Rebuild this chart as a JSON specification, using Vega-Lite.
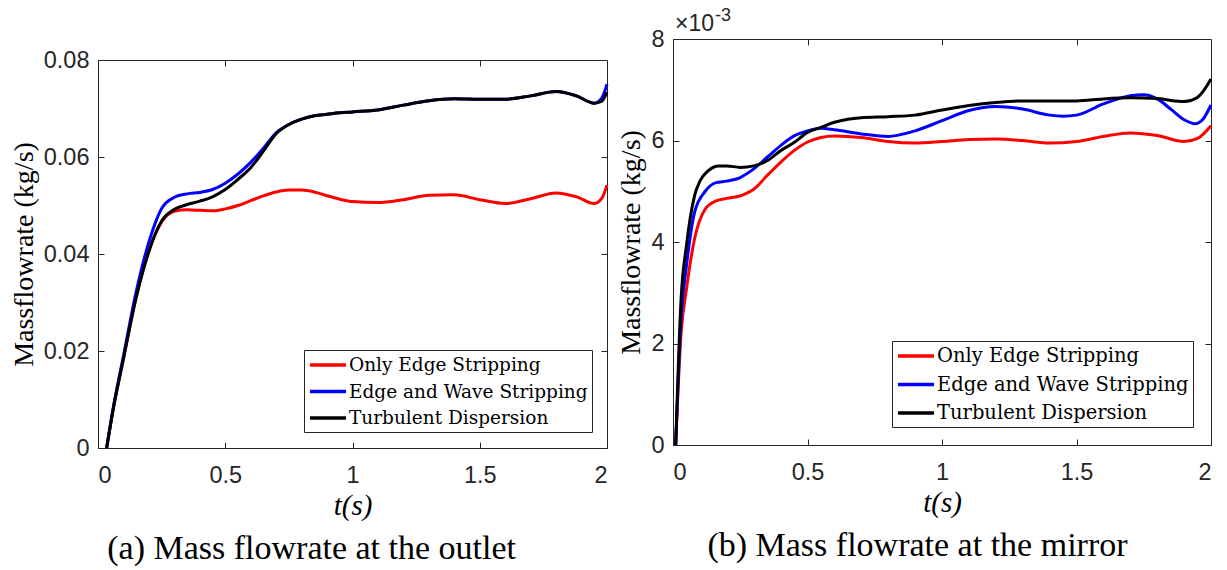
{
  "$schema": "https://vega.github.io/schema/vega-lite/v6.json",
  "background": "white",
  "padding": {"left": 9, "top": 6, "right": 8, "bottom": 4},
  "spacing": 3,
  "datasets": {
    "outlet": [
      {"t": 0.034, "m": 0, "model": "Only Edge Stripping"},
      {"t": 0.06, "m": 0.0081, "model": "Only Edge Stripping"},
      {"t": 0.1, "m": 0.0184, "model": "Only Edge Stripping"},
      {"t": 0.15, "m": 0.0312, "model": "Only Edge Stripping"},
      {"t": 0.2, "m": 0.0408, "model": "Only Edge Stripping"},
      {"t": 0.25, "m": 0.0466, "model": "Only Edge Stripping"},
      {"t": 0.3, "m": 0.0488, "model": "Only Edge Stripping"},
      {"t": 0.35, "m": 0.0491, "model": "Only Edge Stripping"},
      {"t": 0.4, "m": 0.049, "model": "Only Edge Stripping"},
      {"t": 0.45, "m": 0.0489, "model": "Only Edge Stripping"},
      {"t": 0.5, "m": 0.0493, "model": "Only Edge Stripping"},
      {"t": 0.55, "m": 0.05, "model": "Only Edge Stripping"},
      {"t": 0.6, "m": 0.051, "model": "Only Edge Stripping"},
      {"t": 0.65, "m": 0.052, "model": "Only Edge Stripping"},
      {"t": 0.7, "m": 0.0528, "model": "Only Edge Stripping"},
      {"t": 0.75, "m": 0.0532, "model": "Only Edge Stripping"},
      {"t": 0.8, "m": 0.0532, "model": "Only Edge Stripping"},
      {"t": 0.85, "m": 0.0528, "model": "Only Edge Stripping"},
      {"t": 0.9, "m": 0.052, "model": "Only Edge Stripping"},
      {"t": 0.95, "m": 0.0513, "model": "Only Edge Stripping"},
      {"t": 1.0, "m": 0.0508, "model": "Only Edge Stripping"},
      {"t": 1.1, "m": 0.0506, "model": "Only Edge Stripping"},
      {"t": 1.2, "m": 0.0512, "model": "Only Edge Stripping"},
      {"t": 1.3, "m": 0.0521, "model": "Only Edge Stripping"},
      {"t": 1.4, "m": 0.0522, "model": "Only Edge Stripping"},
      {"t": 1.5, "m": 0.0512, "model": "Only Edge Stripping"},
      {"t": 1.6, "m": 0.0504, "model": "Only Edge Stripping"},
      {"t": 1.7, "m": 0.0514, "model": "Only Edge Stripping"},
      {"t": 1.8, "m": 0.0526, "model": "Only Edge Stripping"},
      {"t": 1.88, "m": 0.0518, "model": "Only Edge Stripping"},
      {"t": 1.95, "m": 0.0504, "model": "Only Edge Stripping"},
      {"t": 1.98, "m": 0.0515, "model": "Only Edge Stripping"},
      {"t": 2.0, "m": 0.0542, "model": "Only Edge Stripping"},
      {"t": 0.034, "m": 0, "model": "Edge and Wave Stripping"},
      {"t": 0.06, "m": 0.0083, "model": "Edge and Wave Stripping"},
      {"t": 0.1, "m": 0.019, "model": "Edge and Wave Stripping"},
      {"t": 0.15, "m": 0.0322, "model": "Edge and Wave Stripping"},
      {"t": 0.2, "m": 0.0425, "model": "Edge and Wave Stripping"},
      {"t": 0.25, "m": 0.0494, "model": "Edge and Wave Stripping"},
      {"t": 0.3, "m": 0.0517, "model": "Edge and Wave Stripping"},
      {"t": 0.35, "m": 0.0524, "model": "Edge and Wave Stripping"},
      {"t": 0.4, "m": 0.0527, "model": "Edge and Wave Stripping"},
      {"t": 0.45, "m": 0.0533, "model": "Edge and Wave Stripping"},
      {"t": 0.5, "m": 0.0546, "model": "Edge and Wave Stripping"},
      {"t": 0.55, "m": 0.0565, "model": "Edge and Wave Stripping"},
      {"t": 0.6, "m": 0.0589, "model": "Edge and Wave Stripping"},
      {"t": 0.65, "m": 0.0618, "model": "Edge and Wave Stripping"},
      {"t": 0.7, "m": 0.065, "model": "Edge and Wave Stripping"},
      {"t": 0.75, "m": 0.0667, "model": "Edge and Wave Stripping"},
      {"t": 0.8, "m": 0.0678, "model": "Edge and Wave Stripping"},
      {"t": 0.85, "m": 0.0685, "model": "Edge and Wave Stripping"},
      {"t": 0.9, "m": 0.0688, "model": "Edge and Wave Stripping"},
      {"t": 0.95, "m": 0.0691, "model": "Edge and Wave Stripping"},
      {"t": 1.0, "m": 0.0693, "model": "Edge and Wave Stripping"},
      {"t": 1.1, "m": 0.0697, "model": "Edge and Wave Stripping"},
      {"t": 1.2, "m": 0.0707, "model": "Edge and Wave Stripping"},
      {"t": 1.3, "m": 0.0716, "model": "Edge and Wave Stripping"},
      {"t": 1.4, "m": 0.072, "model": "Edge and Wave Stripping"},
      {"t": 1.5, "m": 0.0719, "model": "Edge and Wave Stripping"},
      {"t": 1.6, "m": 0.0719, "model": "Edge and Wave Stripping"},
      {"t": 1.7, "m": 0.0726, "model": "Edge and Wave Stripping"},
      {"t": 1.8, "m": 0.0735, "model": "Edge and Wave Stripping"},
      {"t": 1.88, "m": 0.0726, "model": "Edge and Wave Stripping"},
      {"t": 1.95, "m": 0.0711, "model": "Edge and Wave Stripping"},
      {"t": 1.98, "m": 0.0722, "model": "Edge and Wave Stripping"},
      {"t": 2.0, "m": 0.075, "model": "Edge and Wave Stripping"},
      {"t": 0.034, "m": 0, "model": "Turbulent Dispersion"},
      {"t": 0.06, "m": 0.0081, "model": "Turbulent Dispersion"},
      {"t": 0.1, "m": 0.0184, "model": "Turbulent Dispersion"},
      {"t": 0.15, "m": 0.031, "model": "Turbulent Dispersion"},
      {"t": 0.2, "m": 0.0405, "model": "Turbulent Dispersion"},
      {"t": 0.25, "m": 0.0468, "model": "Turbulent Dispersion"},
      {"t": 0.3, "m": 0.0492, "model": "Turbulent Dispersion"},
      {"t": 0.35, "m": 0.0502, "model": "Turbulent Dispersion"},
      {"t": 0.4, "m": 0.0509, "model": "Turbulent Dispersion"},
      {"t": 0.45, "m": 0.0518, "model": "Turbulent Dispersion"},
      {"t": 0.5, "m": 0.0533, "model": "Turbulent Dispersion"},
      {"t": 0.55, "m": 0.0554, "model": "Turbulent Dispersion"},
      {"t": 0.6, "m": 0.0578, "model": "Turbulent Dispersion"},
      {"t": 0.65, "m": 0.0612, "model": "Turbulent Dispersion"},
      {"t": 0.7, "m": 0.0648, "model": "Turbulent Dispersion"},
      {"t": 0.75, "m": 0.0667, "model": "Turbulent Dispersion"},
      {"t": 0.8, "m": 0.0678, "model": "Turbulent Dispersion"},
      {"t": 0.85, "m": 0.0685, "model": "Turbulent Dispersion"},
      {"t": 0.9, "m": 0.0688, "model": "Turbulent Dispersion"},
      {"t": 0.95, "m": 0.0691, "model": "Turbulent Dispersion"},
      {"t": 1.0, "m": 0.0693, "model": "Turbulent Dispersion"},
      {"t": 1.1, "m": 0.0697, "model": "Turbulent Dispersion"},
      {"t": 1.2, "m": 0.0707, "model": "Turbulent Dispersion"},
      {"t": 1.3, "m": 0.0716, "model": "Turbulent Dispersion"},
      {"t": 1.4, "m": 0.072, "model": "Turbulent Dispersion"},
      {"t": 1.5, "m": 0.0719, "model": "Turbulent Dispersion"},
      {"t": 1.6, "m": 0.0719, "model": "Turbulent Dispersion"},
      {"t": 1.7, "m": 0.0726, "model": "Turbulent Dispersion"},
      {"t": 1.8, "m": 0.0735, "model": "Turbulent Dispersion"},
      {"t": 1.88, "m": 0.0726, "model": "Turbulent Dispersion"},
      {"t": 1.95, "m": 0.0711, "model": "Turbulent Dispersion"},
      {"t": 1.98, "m": 0.0715, "model": "Turbulent Dispersion"},
      {"t": 2.0, "m": 0.0734, "model": "Turbulent Dispersion"}
    ],
    "mirror": [
      {"t": 0.01, "m": 0, "model": "Only Edge Stripping"},
      {"t": 0.03, "m": 2.2, "model": "Only Edge Stripping"},
      {"t": 0.05, "m": 3.07, "model": "Only Edge Stripping"},
      {"t": 0.08, "m": 4.06, "model": "Only Edge Stripping"},
      {"t": 0.12, "m": 4.65, "model": "Only Edge Stripping"},
      {"t": 0.16, "m": 4.81, "model": "Only Edge Stripping"},
      {"t": 0.2, "m": 4.86, "model": "Only Edge Stripping"},
      {"t": 0.25, "m": 4.91, "model": "Only Edge Stripping"},
      {"t": 0.3, "m": 5.04, "model": "Only Edge Stripping"},
      {"t": 0.35, "m": 5.31, "model": "Only Edge Stripping"},
      {"t": 0.4, "m": 5.57, "model": "Only Edge Stripping"},
      {"t": 0.45, "m": 5.8, "model": "Only Edge Stripping"},
      {"t": 0.5, "m": 5.97, "model": "Only Edge Stripping"},
      {"t": 0.55, "m": 6.06, "model": "Only Edge Stripping"},
      {"t": 0.6, "m": 6.09, "model": "Only Edge Stripping"},
      {"t": 0.7, "m": 6.06, "model": "Only Edge Stripping"},
      {"t": 0.8, "m": 5.98, "model": "Only Edge Stripping"},
      {"t": 0.9, "m": 5.95, "model": "Only Edge Stripping"},
      {"t": 1.0, "m": 5.98, "model": "Only Edge Stripping"},
      {"t": 1.1, "m": 6.02, "model": "Only Edge Stripping"},
      {"t": 1.2, "m": 6.03, "model": "Only Edge Stripping"},
      {"t": 1.3, "m": 6.0, "model": "Only Edge Stripping"},
      {"t": 1.4, "m": 5.95, "model": "Only Edge Stripping"},
      {"t": 1.5, "m": 5.98, "model": "Only Edge Stripping"},
      {"t": 1.6, "m": 6.08, "model": "Only Edge Stripping"},
      {"t": 1.7, "m": 6.15, "model": "Only Edge Stripping"},
      {"t": 1.8, "m": 6.1, "model": "Only Edge Stripping"},
      {"t": 1.9, "m": 5.98, "model": "Only Edge Stripping"},
      {"t": 1.95, "m": 6.04, "model": "Only Edge Stripping"},
      {"t": 2.0, "m": 6.29, "model": "Only Edge Stripping"},
      {"t": 0.01, "m": 0, "model": "Edge and Wave Stripping"},
      {"t": 0.03, "m": 2.5, "model": "Edge and Wave Stripping"},
      {"t": 0.05, "m": 3.53, "model": "Edge and Wave Stripping"},
      {"t": 0.08, "m": 4.58, "model": "Edge and Wave Stripping"},
      {"t": 0.12, "m": 5.0, "model": "Edge and Wave Stripping"},
      {"t": 0.16, "m": 5.17, "model": "Edge and Wave Stripping"},
      {"t": 0.2, "m": 5.2, "model": "Edge and Wave Stripping"},
      {"t": 0.25, "m": 5.27, "model": "Edge and Wave Stripping"},
      {"t": 0.3, "m": 5.44, "model": "Edge and Wave Stripping"},
      {"t": 0.35, "m": 5.67, "model": "Edge and Wave Stripping"},
      {"t": 0.4, "m": 5.9, "model": "Edge and Wave Stripping"},
      {"t": 0.45, "m": 6.09, "model": "Edge and Wave Stripping"},
      {"t": 0.5, "m": 6.19, "model": "Edge and Wave Stripping"},
      {"t": 0.55, "m": 6.24, "model": "Edge and Wave Stripping"},
      {"t": 0.6, "m": 6.21, "model": "Edge and Wave Stripping"},
      {"t": 0.7, "m": 6.13, "model": "Edge and Wave Stripping"},
      {"t": 0.8, "m": 6.08, "model": "Edge and Wave Stripping"},
      {"t": 0.9, "m": 6.19, "model": "Edge and Wave Stripping"},
      {"t": 1.0, "m": 6.39, "model": "Edge and Wave Stripping"},
      {"t": 1.1, "m": 6.59, "model": "Edge and Wave Stripping"},
      {"t": 1.2, "m": 6.67, "model": "Edge and Wave Stripping"},
      {"t": 1.3, "m": 6.62, "model": "Edge and Wave Stripping"},
      {"t": 1.4, "m": 6.5, "model": "Edge and Wave Stripping"},
      {"t": 1.45, "m": 6.48, "model": "Edge and Wave Stripping"},
      {"t": 1.5, "m": 6.5, "model": "Edge and Wave Stripping"},
      {"t": 1.6, "m": 6.72, "model": "Edge and Wave Stripping"},
      {"t": 1.7, "m": 6.88, "model": "Edge and Wave Stripping"},
      {"t": 1.75, "m": 6.9, "model": "Edge and Wave Stripping"},
      {"t": 1.8, "m": 6.82, "model": "Edge and Wave Stripping"},
      {"t": 1.85, "m": 6.62, "model": "Edge and Wave Stripping"},
      {"t": 1.9, "m": 6.41, "model": "Edge and Wave Stripping"},
      {"t": 1.94, "m": 6.33, "model": "Edge and Wave Stripping"},
      {"t": 1.97, "m": 6.42, "model": "Edge and Wave Stripping"},
      {"t": 2.0, "m": 6.7, "model": "Edge and Wave Stripping"},
      {"t": 0.01, "m": 0, "model": "Turbulent Dispersion"},
      {"t": 0.03, "m": 2.87, "model": "Turbulent Dispersion"},
      {"t": 0.05, "m": 3.93, "model": "Turbulent Dispersion"},
      {"t": 0.08, "m": 4.91, "model": "Turbulent Dispersion"},
      {"t": 0.1, "m": 5.2, "model": "Turbulent Dispersion"},
      {"t": 0.13, "m": 5.4, "model": "Turbulent Dispersion"},
      {"t": 0.17, "m": 5.5, "model": "Turbulent Dispersion"},
      {"t": 0.2, "m": 5.5, "model": "Turbulent Dispersion"},
      {"t": 0.25, "m": 5.47, "model": "Turbulent Dispersion"},
      {"t": 0.3, "m": 5.5, "model": "Turbulent Dispersion"},
      {"t": 0.35, "m": 5.6, "model": "Turbulent Dispersion"},
      {"t": 0.4, "m": 5.8, "model": "Turbulent Dispersion"},
      {"t": 0.45, "m": 5.96, "model": "Turbulent Dispersion"},
      {"t": 0.5, "m": 6.16, "model": "Turbulent Dispersion"},
      {"t": 0.55, "m": 6.26, "model": "Turbulent Dispersion"},
      {"t": 0.6, "m": 6.36, "model": "Turbulent Dispersion"},
      {"t": 0.65, "m": 6.42, "model": "Turbulent Dispersion"},
      {"t": 0.7, "m": 6.45, "model": "Turbulent Dispersion"},
      {"t": 0.8, "m": 6.47, "model": "Turbulent Dispersion"},
      {"t": 0.9, "m": 6.5, "model": "Turbulent Dispersion"},
      {"t": 1.0, "m": 6.6, "model": "Turbulent Dispersion"},
      {"t": 1.1, "m": 6.69, "model": "Turbulent Dispersion"},
      {"t": 1.2, "m": 6.75, "model": "Turbulent Dispersion"},
      {"t": 1.3, "m": 6.78, "model": "Turbulent Dispersion"},
      {"t": 1.4, "m": 6.78, "model": "Turbulent Dispersion"},
      {"t": 1.5, "m": 6.78, "model": "Turbulent Dispersion"},
      {"t": 1.6, "m": 6.82, "model": "Turbulent Dispersion"},
      {"t": 1.7, "m": 6.84, "model": "Turbulent Dispersion"},
      {"t": 1.8, "m": 6.83, "model": "Turbulent Dispersion"},
      {"t": 1.85, "m": 6.79, "model": "Turbulent Dispersion"},
      {"t": 1.9, "m": 6.77, "model": "Turbulent Dispersion"},
      {"t": 1.95, "m": 6.85, "model": "Turbulent Dispersion"},
      {"t": 2.0, "m": 7.21, "model": "Turbulent Dispersion"}
    ]
  },
  "resolve": {"scale": {"color": "independent"}, "legend": {"color": "independent"}},
  "hconcat": [
    {
      "bounds": "flush",
      "spacing": 20,
      "vconcat": [
        {
          "width": 509,
          "height": 1,
          "view": {"stroke": null},
          "data": {"values": [{"gap": 0}]},
          "mark": {"type": "point", "opacity": 0, "size": 0},
          "encoding": {}
        },
        {
          "width": 509,
          "height": 388,
          "title": {"text": "(a) Mass flowrate at the outlet", "orient": "bottom", "frame": "bounds", "anchor": "middle", "font": "Liberation Serif", "fontSize": 34, "fontWeight": "normal", "color": "#000000", "offset": 11},
          "resolve": {"axis": {"x": "independent", "y": "independent"}},
          "layer": [
            {
              "data": {"name": "outlet"},
              "mark": {"type": "line", "strokeWidth": 3, "interpolate": "monotone"},
              "encoding": {
                "x": {"field": "t", "type": "quantitative", "scale": {"domain": [0, 2], "nice": false},
                      "axis": {"values": [0, 0.5, 1, 1.5, 2], "format": "~g", "title": "t(s)", "titleFontStyle": "italic"}},
                "y": {"field": "m", "type": "quantitative", "scale": {"domain": [0, 0.08], "nice": false},
                      "axis": {"values": [0, 0.02, 0.04, 0.06, 0.08], "format": ".2~f", "title": "Massflowrate (kg/s)"}},
                "color": {"field": "model", "type": "nominal",
                          "scale": {"domain": ["Only Edge Stripping", "Edge and Wave Stripping", "Turbulent Dispersion"], "range": ["#ff0000", "#0000ff", "#000000"]},
                          "legend": {"orient": "none", "legendX": 206, "legendY": 311, "labelFontSize": 18.5, "rowPadding": 5.5}}
              }
            },
            {
              "data": {"name": "outlet"},
              "mark": {"type": "point", "opacity": 0},
              "encoding": {
                "x": {"field": "t", "type": "quantitative", "axis": {"orient": "top", "values": [0.5, 1, 1.5], "labels": false, "title": null, "domain": false}},
                "y": {"field": "m", "type": "quantitative", "axis": {"orient": "right", "values": [0.02, 0.04, 0.06], "labels": false, "title": null, "domain": false}}
              }
            }
          ]
        }
      ]
    },
    {
      "width": 538,
      "height": 406,
      "title": {"text": "(b) Mass flowrate at the mirror", "orient": "bottom", "frame": "bounds", "anchor": "middle", "font": "Liberation Serif", "fontSize": 34, "fontWeight": "normal", "color": "#000000", "offset": 11},
      "resolve": {"axis": {"x": "independent", "y": "independent"}},
      "layer": [
        {
          "data": {"name": "mirror"},
          "mark": {"type": "line", "strokeWidth": 3, "interpolate": "monotone"},
          "encoding": {
            "x": {"field": "t", "type": "quantitative", "scale": {"domain": [0, 2], "nice": false},
                  "axis": {"values": [0, 0.5, 1, 1.5, 2], "format": "~g", "title": "t(s)", "titleFontStyle": "italic"}},
            "y": {"field": "m", "type": "quantitative", "scale": {"domain": [0, 8], "nice": false},
                  "axis": {"values": [0, 2, 4, 6, 8], "format": "d", "title": "Massflowrate (kg/s)"}},
            "color": {"field": "model", "type": "nominal",
                      "scale": {"domain": ["Only Edge Stripping", "Edge and Wave Stripping", "Turbulent Dispersion"], "range": ["#ff0000", "#0000ff", "#000000"]},
                      "legend": {"orient": "none", "legendX": 219, "legendY": 302, "labelFontSize": 19.5, "rowPadding": 7.5}}
          }
        },
        {
          "data": {"name": "mirror"},
          "mark": {"type": "point", "opacity": 0},
          "encoding": {
            "x": {"field": "t", "type": "quantitative", "axis": {"orient": "top", "values": [0.5, 1, 1.5], "labels": false, "title": null, "domain": false}},
            "y": {"field": "m", "type": "quantitative", "axis": {"orient": "right", "values": [2, 4, 6], "labels": false, "title": null, "domain": false}}
          }
        },
        {
          "data": {"values": [{"label": "×10"}]},
          "mark": {"type": "text", "align": "left", "baseline": "alphabetic", "font": "Liberation Sans", "fontSize": 23, "color": "#262626", "dx": 2, "dy": -8},
          "encoding": {
            "x": {"datum": 0, "type": "quantitative", "axis": null},
            "y": {"datum": 8, "type": "quantitative", "axis": null},
            "text": {"field": "label"}
          }
        },
        {
          "data": {"values": [{"label": "-3"}]},
          "mark": {"type": "text", "align": "left", "baseline": "alphabetic", "font": "Liberation Sans", "fontSize": 18, "color": "#262626", "dx": 42, "dy": -18},
          "encoding": {
            "x": {"datum": 0, "type": "quantitative", "axis": null},
            "y": {"datum": 8, "type": "quantitative", "axis": null},
            "text": {"field": "label"}
          }
        }
      ]
    }
  ],
  "config": {
    "view": {"stroke": "#262626", "strokeWidth": 1},
    "axis": {
      "grid": false,
      "domainColor": "#262626",
      "tickColor": "#262626",
      "tickSize": -6,
      "labelColor": "#262626",
      "labelFont": "Liberation Sans",
      "labelFontSize": 23.5,
      "titleFont": "Liberation Serif",
      "titleFontSize": 28,
      "titleFontWeight": "normal",
      "titleColor": "#000000"
    },
    "axisX": {"labelPadding": 21, "titlePadding": 5, "titleFontSize": 29},
    "axisY": {"labelPadding": 15, "titlePadding": 5},
    "legend": {
      "title": null,
      "symbolType": "M-1,0H3",
      "symbolStrokeWidth": 3.5,
      "symbolSize": 324,
      "labelFont": "DejaVu Serif",
      "labelFontSize": 19,
      "labelColor": "#000000",
      "labelLimit": 400,
      "labelOffset": 19,
      "rowPadding": 6,
      "padding": 4,
      "strokeColor": "#262626",
      "fillColor": "#ffffff",
      "cornerRadius": 0
    }
  }
}
